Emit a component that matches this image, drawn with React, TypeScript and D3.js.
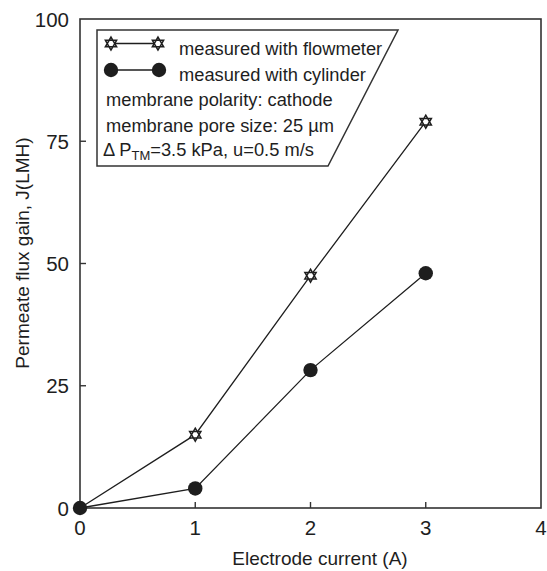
import React from "react";
import * as d3 from "d3";

const currents = [0, 1, 2, 3];
const flowmeter = [0, 15, 47.5, 79];
const cylinder = [0, 4, 28.2, 48];
const xTicks = [0, 1, 2, 3, 4];
const yTicks = [0, 25, 50, 75, 100];
const legendLines = [
  "membrane polarity: cathode",
  "membrane pore size: 25 µm",
];

const W = 547, H = 571;
const x = d3.scaleLinear().domain([0, 4]).range([80, 541]);
const y = d3.scaleLinear().domain([0, 100]).range([508, 19]);
const FONT = "Liberation Sans, Arial, Helvetica, sans-serif";
const INK = "#1e1e1e";

function hexagram(cx: number, cy: number, r: number) {
  const tri = (rot: number) =>
    d3.range(3).map((i) => {
      const a = rot + (i * 2 * Math.PI) / 3;
      return [cx + r * Math.sin(a), cy - r * Math.cos(a)];
    });
  const p = (pts: number[][]) => "M" + pts.map((q) => q.join(",")).join("L") + "Z";
  return p(tri(0)) + p(tri(Math.PI));
}

function Star({ cx, cy }: { cx: number; cy: number }) {
  return <path d={hexagram(cx, cy, 6.5)} fill="white" stroke={INK} strokeWidth={1.5} />;
}

export default function App() {
  const line = d3
    .line<number>()
    .x((_, i) => x(currents[i]))
    .y((d) => y(d));
  return (
    <svg width={W} height={H} style={{ display: "block", position: "absolute", left: 0, top: 0 }} fontFamily={FONT}>
      <rect x={0} y={0} width={W} height={H} fill="white" />
      {/* frame */}
      <rect x={x(0)} y={y(100)} width={x(4) - x(0)} height={y(0) - y(100)} fill="none" stroke="#333" strokeWidth={1.6} />
      {/* ticks */}
      {xTicks.slice(1, -1).map((t) => (
        <line key={"xt" + t} x1={x(t)} x2={x(t)} y1={y(0)} y2={y(0) - 6} stroke="#333" strokeWidth={1.4} />
      ))}
      {yTicks.slice(1, -1).map((t) => (
        <line key={"yt" + t} x1={x(0)} x2={x(0) + 6} y1={y(t)} y2={y(t)} stroke="#333" strokeWidth={1.4} />
      ))}
      {xTicks.map((t) => (
        <text key={"xl" + t} x={x(t)} y={535} textAnchor="middle" fontSize={20.5} fill={INK}>
          {t}
        </text>
      ))}
      {yTicks.map((t) => (
        <text key={"yl" + t} x={69} y={y(t) + 7.5} textAnchor="end" fontSize={20.5} fill={INK}>
          {t}
        </text>
      ))}
      <text x={320} y={565} textAnchor="middle" fontSize={19} fill={INK}>
        Electrode current (A)
      </text>
      <text transform={`translate(29,253) rotate(-90)`} textAnchor="middle" fontSize={19} fill={INK}>
        Permeate flux gain, J(LMH)
      </text>
      {/* legend box */}
      <path d="M97,30L398,30L328,166L97,166Z" fill="white" stroke="#333" strokeWidth={1.5} />
      <line x1={111} x2={158} y1={43.5} y2={43.5} stroke={INK} strokeWidth={1.3} />
      <Star cx={111} cy={43.5} />
      <Star cx={158} cy={43.5} />
      <line x1={111} x2={159} y1={70} y2={70} stroke={INK} strokeWidth={1.3} />
      <circle cx={111} cy={70} r={7.2} fill={INK} />
      <circle cx={159} cy={70} r={7.2} fill={INK} />
      <text x={179} y={55} fontSize={18.3} fill={INK}>measured with flowmeter</text>
      <text x={179} y={80.5} fontSize={18.3} fill={INK}>measured with cylinder</text>
      {legendLines.map((s, i) => (
        <text key={s} x={106} y={106 + i * 26} fontSize={18.3} fill={INK}>{s}</text>
      ))}
      <text x={103} y={156} fontSize={18.3} fill={INK}>
        <tspan>Δ P</tspan>
        <tspan fontSize={13} dy={4}>TM</tspan>
        <tspan dy={-4}>=3.5 kPa, u=0.5 m/s</tspan>
      </text>
      {/* data */}
      <path d={line(flowmeter) || ""} fill="none" stroke={INK} strokeWidth={1.3} />
      <path d={line(cylinder) || ""} fill="none" stroke={INK} strokeWidth={1.3} />
      {flowmeter.slice(1).map((v, i) => (
        <Star key={"s" + i} cx={x(currents[i + 1])} cy={y(v)} />
      ))}
      {cylinder.map((v, i) => (
        <circle key={"c" + i} cx={x(currents[i])} cy={y(v)} r={7.2} fill={INK} />
      ))}
    </svg>
  );
}
